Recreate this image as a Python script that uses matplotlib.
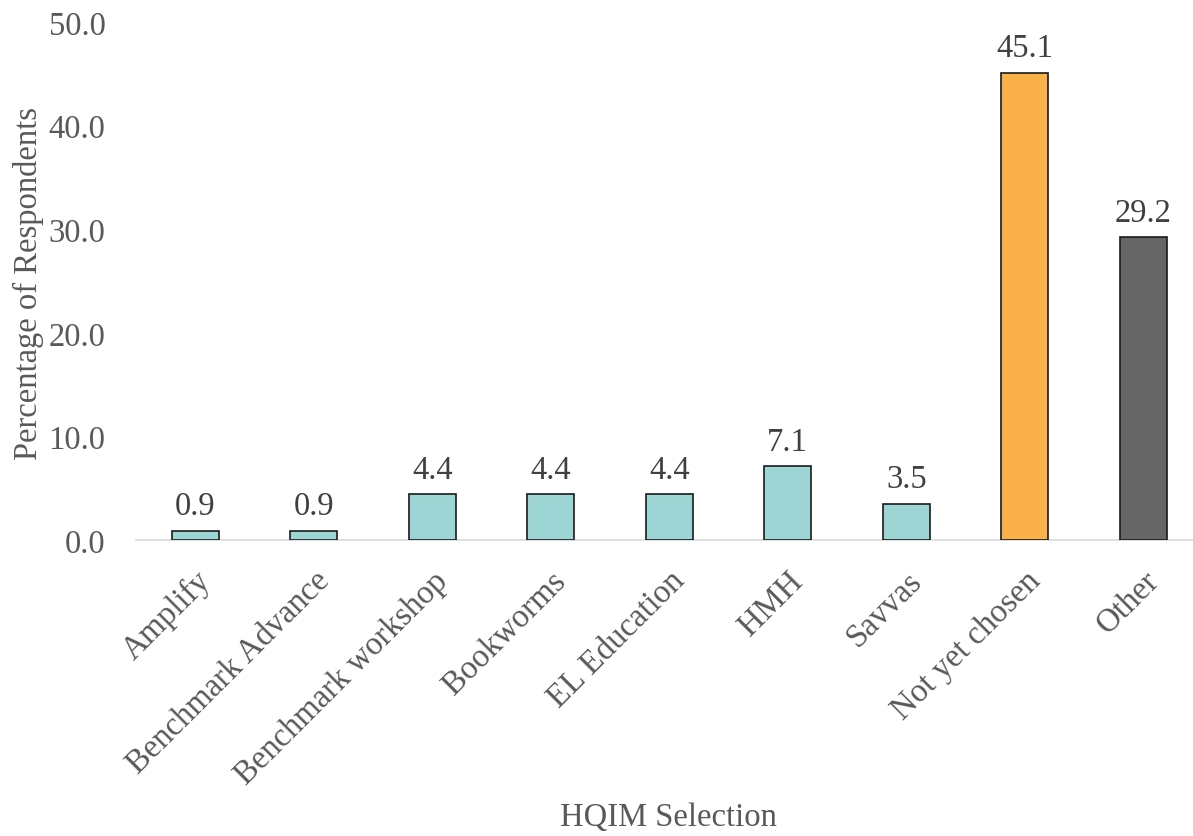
import matplotlib
matplotlib.use("Agg")
import matplotlib.pyplot as plt

categories = ["Amplify", "Benchmark Advance", "Benchmark workshop", "Bookworms",
              "EL Education", "HMH", "Savvas", "Not yet chosen", "Other"]
values = [0.9, 0.9, 4.4, 4.4, 4.4, 7.1, 3.5, 45.1, 29.2]
colors = ["#9DD5D5"] * 7 + ["#FBB149", "#666666"]
yticks = [0, 10, 20, 30, 40, 50]

plt.rcParams['font.family'] = ['Liberation Serif', 'DejaVu Serif']
txt = "#595959"
fs = 23.5

fig = plt.figure(figsize=(11.93, 8.37), dpi=100)
W, H = 1193, 837
left, right = 136, 136 + 9 * 118.5
bottom, top = 541, 23
ax = fig.add_axes([left / W, 1 - bottom / H, (right - left) / W, (bottom - top) / H])

x = list(range(len(categories)))
ax.bar(x, values, width=0.4, color=colors, edgecolor="#1a1a1a", linewidth=1.2, zorder=3)
for xi, v in zip(x, values):
    ax.annotate(f"{v:.1f}", (xi, v), xytext=(0, 7), textcoords="offset points",
                ha="center", va="bottom", fontsize=fs, color="#404040")

ax.set_xlim(-0.5, 8.5)
ax.set_ylim(0, 50)
ax.set_yticks(yticks)
ax.set_yticklabels([f"{t:.1f}" for t in yticks], fontsize=fs, color=txt)
ax.set_xticks(x)
ax.set_xticklabels(categories, rotation=45, ha="right", rotation_mode="anchor",
                   fontsize=fs, color=txt)
ax.tick_params(axis="both", length=0)
ax.tick_params(axis="x", pad=18)
ax.tick_params(axis="y", pad=22)
for s in ["top", "right", "left"]:
    ax.spines[s].set_visible(False)
ax.spines["bottom"].set_color("#D9D9D9")
ax.spines["bottom"].set_linewidth(1.2)

fig.text(28 / W, 1 - 284 / H, "Percentage of Respondents", rotation=90,
         ha="center", va="center", fontsize=fs, color=txt)
fig.text(668 / W, 1 - 818 / H, "HQIM Selection", ha="center", va="center",
         fontsize=fs, color=txt)

fig.savefig("out.png", dpi=100)
